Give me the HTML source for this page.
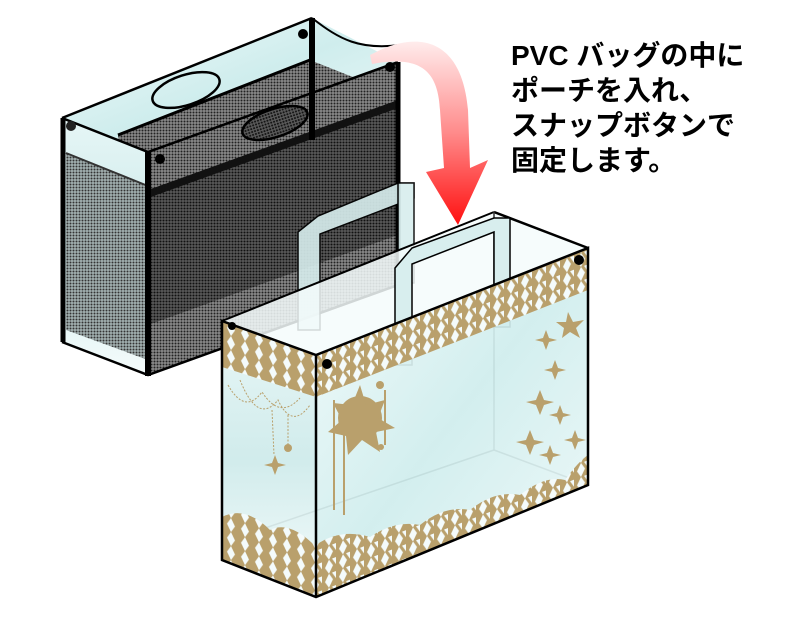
<!DOCTYPE html>
<html><head><meta charset="utf-8"><style>
html,body{margin:0;padding:0;background:#fff;width:800px;height:625px;overflow:hidden}
svg{display:block}
</style></head><body>
<svg width="800" height="625" viewBox="0 0 800 625" xmlns="http://www.w3.org/2000/svg">
<defs>
<pattern id="mesh" width="3" height="3" patternUnits="userSpaceOnUse">
<rect width="3" height="3" fill="#8a8a8a"/><circle cx="1.5" cy="1.5" r="1" fill="#222"/>
</pattern>
<pattern id="meshD" width="3" height="3" patternUnits="userSpaceOnUse">
<rect width="3" height="3" fill="#5a5a5a"/><circle cx="1.5" cy="1.5" r="1.05" fill="#111"/>
</pattern>
<pattern id="meshS" width="3" height="3" patternUnits="userSpaceOnUse">
<rect width="3" height="3" fill="#a4b2b2"/><circle cx="1.5" cy="1.5" r="1" fill="#333"/>
</pattern>
<pattern id="dia" width="14" height="14" patternUnits="userSpaceOnUse" patternTransform="skewY(-21)">
<rect width="14" height="14" fill="#b9a06c"/>
<path d="M7 0 L11 7 L7 14 L3 7Z" fill="#f4fbfb"/>
<path d="M14 -7 L18 0 L14 7 L10 0Z" fill="#f4fbfb"/>
</pattern>
<pattern id="diaL" width="14" height="14" patternUnits="userSpaceOnUse" patternTransform="skewY(20)">
<rect width="14" height="14" fill="#b9a06c"/>
<path d="M7 0 L11 7 L7 14 L3 7Z" fill="#f4fbfb"/>
</pattern>
<linearGradient id="glass" x1="0" y1="0" x2="1" y2="1">
<stop offset="0" stop-color="#f2fbfb"/><stop offset="0.5" stop-color="#cfeded"/><stop offset="1" stop-color="#eef9f9"/>
</linearGradient>
<linearGradient id="glass2" x1="0" y1="0" x2="0" y2="1">
<stop offset="0" stop-color="#e6f6f6"/><stop offset="0.5" stop-color="#cdeaea"/><stop offset="1" stop-color="#f5fcfc"/>
</linearGradient>
<linearGradient id="arr" x1="0" y1="0" x2="0" y2="1">
<stop offset="0" stop-color="#ffecec"/><stop offset="0.5" stop-color="#ff8a8a"/><stop offset="1" stop-color="#ff1010"/>
</linearGradient>
</defs>

<!-- ===== Dark mesh bag ===== -->
<polygon points="62,118 312,18 398,62 148,152" fill="url(#glass)"/>
<polygon points="118,135 310,60 398,95 398,260 148,350" fill="url(#mesh)"/>
<!-- left side -->
<polygon points="62,118 148,152 148,375 62,342" fill="url(#glass2)"/>
<polygon points="66,153 148,186 148,360 66,330" fill="url(#meshS)"/>
<!-- front face -->
<polygon points="148,152 398,62 398,285 148,375" fill="url(#mesh)"/>
<polygon points="148,192 398,102 398,235 148,325" fill="url(#meshD)"/>
<polygon points="148,190 398,100 398,108 148,198" fill="#111"/>
<path d="M62,118 L312,18" stroke="#000" stroke-width="2.5" fill="none"/>
<path d="M312,18 C340,40 360,50 400,45" stroke="#000" stroke-width="2" fill="none"/>
<path d="M62,118 L148,152 L398,62" stroke="#000" stroke-width="2.5" fill="none"/>
<path d="M118,135 L310,60" stroke="#000" stroke-width="3"/>
<path d="M66,153 L148,186" stroke="#333" stroke-width="2"/>
<line x1="63" y1="118" x2="63" y2="342" stroke="#000" stroke-width="5"/>
<line x1="148" y1="152" x2="148" y2="376" stroke="#000" stroke-width="6"/>
<line x1="312" y1="18" x2="312" y2="140" stroke="#000" stroke-width="6"/>
<line x1="398" y1="62" x2="398" y2="290" stroke="#000" stroke-width="5"/>
<path d="M62,342 L148,375 L398,285" stroke="#000" stroke-width="2.5" fill="none"/>
<ellipse cx="186" cy="90" rx="35" ry="15" transform="rotate(-18 186 90)" fill="none" stroke="#000" stroke-width="2.5"/>
<ellipse cx="275" cy="123" rx="34" ry="14" transform="rotate(-18 275 123)" fill="url(#meshD)" stroke="#000" stroke-width="2.5"/>
<circle cx="303" cy="34" r="5" fill="#000"/>
<circle cx="390" cy="67" r="5" fill="#000"/>
<circle cx="71" cy="126" r="5" fill="#222"/>
<circle cx="160" cy="159" r="5" fill="#000"/>

<!-- ===== Red arrow ===== -->
<path d="M370,55 C420,28 462,40 468,110 L470,168 L488,160 L458,225 L426,172 L444,168 L440,110 C438,70 420,55 372,64 Z" fill="url(#arr)"/>

<!-- ===== Clear bag ===== -->
<g fill="#d8eeee" stroke="#000" stroke-width="1.5" opacity="0.9">
<polygon points="298,232 318,216 398,183 414,183 414,198 320,234 320,330 298,330"/>
<rect x="398" y="183" width="16" height="100"/>
</g>
<polygon points="222,321 494,212 588,248 316,355" fill="#f4fbfb" opacity="0.85"/>
<line x1="222" y1="321" x2="494" y2="212" stroke="#000" stroke-width="2"/>
<line x1="494" y1="212" x2="588" y2="248" stroke="#000" stroke-width="2.5"/>
<line x1="494" y1="212" x2="494" y2="450" stroke="#333" stroke-width="1.5"/>
<line x1="494" y1="450" x2="588" y2="485" stroke="#333" stroke-width="1.5"/>
<line x1="494" y1="450" x2="230" y2="540" stroke="#333" stroke-width="1.5"/>
<circle cx="484" cy="228" r="5" fill="#555"/>
<g fill="#d8eeee" stroke="#000" stroke-width="1.5">
<polygon points="395,268 412,248 494,218 510,218 510,327 494,327 494,232 412,264 412,365 395,365"/>
</g>
<polygon points="222,321 316,355 316,597 222,560" fill="url(#glass2)" opacity="0.92"/>
<polygon points="222,321 316,355 316,397 222,367" fill="url(#diaL)"/>
<path d="M222,517 Q245,505 270,530 Q290,520 316,547 L316,597 L222,560Z" fill="url(#diaL)"/>
<polygon points="316,355 588,248 588,485 316,597" fill="url(#glass)" opacity="0.92"/>
<polygon points="316,355 588,248 588,290 316,397" fill="url(#dia)"/>
<path d="M316,545 Q340,528 370,537 Q395,520 420,525 Q445,505 470,510 Q495,490 520,495 Q545,475 565,480 Q578,462 588,455 L588,485 L316,597Z" fill="url(#dia)"/>
<g fill="#b9a06c">
<circle cx="360" cy="418" r="22"/>
<polygon points="360,385 366,405 385,400 378,418 395,428 376,432 380,452 362,440 348,455 346,436 328,432 342,420 333,403 352,405"/>
<circle cx="380" cy="385" r="4"/><circle cx="381" cy="447" r="3"/>
<rect x="333" y="400" width="2" height="110"/><rect x="343" y="420" width="2" height="95"/><rect x="384" y="390" width="2" height="55"/>
<polygon points="568,312 573,322 584,320 576,328 580,338 570,332 562,338 564,328 556,322 566,322"/>
<polygon points="546,330 549,338 557,340 549,342 546,350 543,342 535,340 543,338"/>
<polygon points="555,360 558,368 566,370 558,372 555,380 552,372 544,370 552,368"/>
<polygon points="540,390 544,400 554,402 544,405 540,415 536,405 526,402 536,400"/>
<polygon points="560,405 563,413 571,415 563,417 560,425 557,417 549,415 557,413"/>
<polygon points="530,430 534,440 544,442 534,445 530,455 526,445 516,442 526,440"/>
<polygon points="575,430 578,438 586,440 578,442 575,450 572,442 564,440 572,438"/>
<polygon points="550,445 553,453 561,455 553,457 550,465 547,457 539,455 547,453"/>
<polygon points="275,455 278,463 286,465 278,467 275,475 272,467 264,465 272,463"/>
<circle cx="288" cy="448" r="4"/>
</g>
<g fill="none" stroke="#b9a06c" stroke-width="1" stroke-dasharray="2 1.5">
<path d="M228,385 Q245,415 262,392 Q280,420 300,398"/>
<path d="M240,380 Q258,425 278,400 Q292,430 310,405"/>
<path d="M272,410 L274,455 M288,415 L288,445"/>
</g>
<circle cx="327" cy="364" r="5" fill="#000"/>
<circle cx="579" cy="260" r="5" fill="#000"/>
<circle cx="232" cy="326" r="4" fill="#000"/>
<g stroke="#000" stroke-width="2.5" fill="none">
<path d="M222,321 L316,355 L588,248 L588,485 L316,597 L222,560 Z"/>
<line x1="316" y1="355" x2="316" y2="597"/>
</g>

<g font-family="'Liberation Sans','Noto Sans CJK JP',sans-serif" font-weight="bold" font-size="28" fill="#000">
<text x="511" y="65">PVC バッグの中に</text>
<text x="511" y="100">ポーチを入れ、</text>
<text x="511" y="135">スナップボタンで</text>
<text x="511" y="170">固定します。</text>
</g>
</svg>
</body></html>
